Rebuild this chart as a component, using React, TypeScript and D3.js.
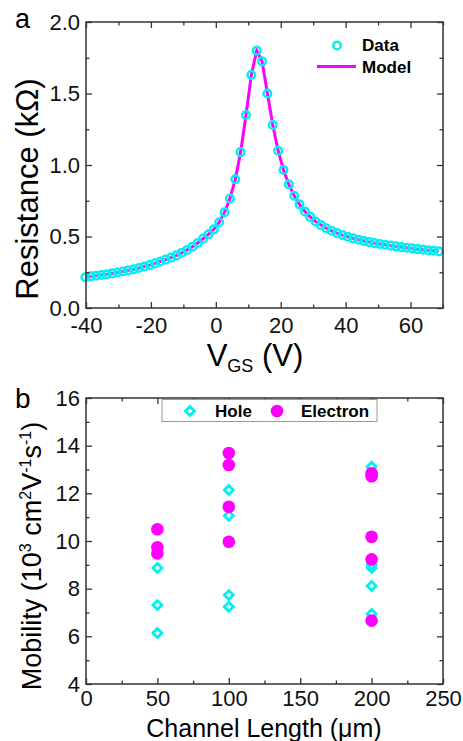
import React, { useEffect, useRef } from 'react';
import * as d3 from 'd3';

// panel a: gate voltage sweep (V) and measured resistance (kOhm)
const vgs = [
  -40.2, -38.55, -36.9, -35.25, -33.6, -31.95, -30.3, -28.65, -27.0, -25.35,
  -23.7, -22.05, -20.4, -18.75, -17.1, -15.45, -13.8, -12.15, -10.5, -8.85,
  -7.2, -5.55, -3.9, -2.25, -0.6, 1.05, 2.7, 4.35, 6.0, 7.65,
  9.3, 10.95, 12.6, 14.25, 15.9, 17.55, 19.2, 20.85, 22.5, 24.15,
  25.8, 27.45, 29.1, 30.75, 32.4, 34.05, 35.7, 37.35, 39.0, 40.65,
  42.3, 43.95, 45.6, 47.25, 48.9, 50.55, 52.2, 53.85, 55.5, 57.15,
  58.8, 60.45, 62.1, 63.75, 65.4, 67.05, 68.7,
];
const resistance = [
  0.215, 0.221, 0.226, 0.231, 0.236, 0.242, 0.248, 0.255, 0.263, 0.271,
  0.28, 0.29, 0.3, 0.312, 0.325, 0.338, 0.352, 0.368, 0.386, 0.406,
  0.428, 0.455, 0.485, 0.515, 0.55, 0.6, 0.67, 0.765, 0.9, 1.09,
  1.35, 1.63, 1.8, 1.725, 1.5, 1.28, 1.1, 0.965, 0.865, 0.785,
  0.725, 0.675, 0.637, 0.605, 0.58, 0.558, 0.54, 0.524, 0.51, 0.498,
  0.487, 0.477, 0.469, 0.461, 0.454, 0.448, 0.442, 0.436, 0.431, 0.426,
  0.421, 0.417, 0.412, 0.408, 0.404, 0.4, 0.396,
];
// model curve
const modelV = vgs;
const modelR = resistance;

// panel b: mobility vs channel length
const holeL = [50, 50, 50, 100, 100, 100, 100, 200, 200, 200, 200, 200];
const holeMu = [8.87, 7.31, 6.14, 12.14, 11.06, 7.73, 7.24, 13.12, 9.0, 8.87, 8.11, 6.94];
const elecL = [50, 50, 50, 100, 100, 100, 100, 200, 200, 200, 200, 200];
const elecMu = [10.49, 9.74, 9.48, 13.69, 13.19, 11.44, 9.97, 12.84, 12.72, 10.18, 9.23, 6.66];

const xTicksA = [-40, -20, 0, 20, 40, 60];
const xMinorA = [-30, -10, 10, 30, 50, 70];
const yTicksA = [0, 0.5, 1.0, 1.5, 2.0];
const yMinorA = [0.25, 0.75, 1.25, 1.75];
const xTicksB = [0, 50, 100, 150, 200, 250];
const xMinorB = [25, 75, 125, 175, 225];
const yTicksB = [4, 6, 8, 10, 12, 14, 16];
const yMinorB = [5, 7, 9, 11, 13, 15];

const CYAN = '#00f0f0';
const MAGENTA = '#ff00ff';
const AXIS = '#333333';
const FONT = '"Liberation Sans", Arial, sans-serif';

const W = 463;
const H = 741;

export default function App() {
  const ref = useRef<SVGSVGElement>(null);

  useEffect(() => {
    const svg = d3.select(ref.current);
    svg.selectAll('*').remove();

    const frame = (
      x: d3.ScaleLinear<number, number>,
      y: d3.ScaleLinear<number, number>,
      xt: number[], xm: number[], yt: number[], ym: number[],
      yfmt: (d: number) => string,
      xpad: number,
    ) => {
      const [x0, x1] = x.range();
      const [y0, y1] = y.range();
      const g = svg.append('g');
      const style = (sel: d3.Selection<SVGGElement, unknown, null, undefined>) => {
        sel.select('.domain').remove();
        sel.selectAll('line').attr('stroke', AXIS).attr('stroke-width', 1.3);
        sel.selectAll('text').attr('font-family', FONT).attr('font-size', 22).attr('fill', '#111');
        sel.attr('font-family', null).attr('font-size', null);
      };
      g.append('g').attr('transform', `translate(0,${y0})`)
        .call(d3.axisBottom(x).tickValues(xt).tickSize(-6).tickPadding(xpad).tickFormat((d) => String(d)))
        .call(style);
      g.append('g').attr('transform', `translate(0,${y0})`)
        .call(d3.axisBottom(x).tickValues(xm).tickSize(-3.5).tickFormat(() => ''))
        .call(style);
      g.append('g').attr('transform', `translate(0,${y1})`)
        .call(d3.axisTop(x).tickValues(xt).tickSize(-6).tickFormat(() => ''))
        .call(style);
      g.append('g').attr('transform', `translate(0,${y1})`)
        .call(d3.axisTop(x).tickValues(xm).tickSize(-3.5).tickFormat(() => ''))
        .call(style);
      g.append('g').attr('transform', `translate(${x0},0)`)
        .call(d3.axisLeft(y).tickValues(yt).tickSize(-6).tickPadding(6).tickFormat((d) => yfmt(d as number)))
        .call(style);
      g.append('g').attr('transform', `translate(${x0},0)`)
        .call(d3.axisLeft(y).tickValues(ym).tickSize(-3.5).tickFormat(() => ''))
        .call(style);
      g.append('g').attr('transform', `translate(${x1},0)`)
        .call(d3.axisRight(y).tickValues(yt).tickSize(-6).tickFormat(() => ''))
        .call(style);
      g.append('g').attr('transform', `translate(${x1},0)`)
        .call(d3.axisRight(y).tickValues(ym).tickSize(-3.5).tickFormat(() => ''))
        .call(style);
      g.append('rect')
        .attr('x', x0).attr('y', y1).attr('width', x1 - x0).attr('height', y0 - y1)
        .attr('fill', 'none').attr('stroke', AXIS).attr('stroke-width', 1.5);
    };

    // ---------- panel a ----------
    const xa = d3.scaleLinear().domain([-40, 70]).range([86, 443]);
    const ya = d3.scaleLinear().domain([0, 2]).range([308, 22]);

    const line = d3.line<number>()
      .x((_, i) => xa(modelV[i]))
      .y((d) => ya(d));
    svg.append('path')
      .datum(modelR)
      .attr('d', line)
      .attr('fill', 'none')
      .attr('stroke', MAGENTA)
      .attr('stroke-width', 3);

    svg.append('g').selectAll('circle')
      .data(resistance)
      .enter()
      .append('circle')
      .attr('cx', (_, i) => xa(vgs[i]))
      .attr('cy', (d) => ya(d))
      .attr('r', 3.8)
      .attr('fill', 'none')
      .attr('stroke', CYAN)
      .attr('stroke-width', 2.5);

    frame(xa, ya, xTicksA, xMinorA, yTicksA, yMinorA, d3.format('.1f'), 9);

    // legend a
    svg.append('circle').attr('cx', 337).attr('cy', 45.5).attr('r', 3.8)
      .attr('fill', 'none').attr('stroke', CYAN).attr('stroke-width', 2.5);
    svg.append('line').attr('x1', 317).attr('x2', 356).attr('y1', 66.5).attr('y2', 66.5)
      .attr('stroke', MAGENTA).attr('stroke-width', 3);
    svg.append('text').attr('x', 362).attr('y', 51).text('Data')
      .attr('font-family', FONT).attr('font-weight', 'bold').attr('font-size', 17);
    svg.append('text').attr('x', 362).attr('y', 73).text('Model')
      .attr('font-family', FONT).attr('font-weight', 'bold').attr('font-size', 17);

    // titles a
    svg.append('text').attr('x', 15).attr('y', 28).text('a')
      .attr('font-family', FONT).attr('font-size', 27);
    svg.append('text')
      .attr('transform', 'translate(38,189) rotate(-90)')
      .attr('text-anchor', 'middle')
      .attr('font-family', FONT).attr('font-size', 31)
      .text('Resistance (kΩ)');
    const vt = svg.append('text').attr('x', 255).attr('y', 366)
      .attr('text-anchor', 'middle').attr('font-family', FONT).attr('font-size', 31);
    vt.append('tspan').text('V');
    vt.append('tspan').attr('font-size', 18).attr('dy', 6).text('GS');
    vt.append('tspan').attr('dy', -6).text(' (V)');

    // ---------- panel b ----------
    const xb = d3.scaleLinear().domain([0, 250]).range([86, 443]);
    const yb = d3.scaleLinear().domain([4, 16]).range([684, 398]);

    const diamond = d3.symbol().type(d3.symbolSquare).size(40);
    svg.append('g').selectAll('path')
      .data(holeMu)
      .enter()
      .append('path')
      .attr('d', diamond)
      .attr('transform', (d, i) => `translate(${xb(holeL[i])},${yb(d)}) rotate(45)`)
      .attr('fill', 'none')
      .attr('stroke', CYAN)
      .attr('stroke-width', 2.8);

    svg.append('g').selectAll('circle')
      .data(elecMu)
      .enter()
      .append('circle')
      .attr('cx', (_, i) => xb(elecL[i]))
      .attr('cy', (d) => yb(d))
      .attr('r', 6.3)
      .attr('fill', MAGENTA);

    frame(xb, yb, xTicksB, xMinorB, yTicksB, yMinorB, (d) => String(d), 6);

    // legend b
    svg.append('rect').attr('x', 162).attr('y', 399.5).attr('width', 215).attr('height', 22)
      .attr('fill', '#fff').attr('stroke', '#999').attr('stroke-width', 1);
    svg.append('path').attr('d', diamond)
      .attr('transform', 'translate(190,411) rotate(45)')
      .attr('fill', 'none').attr('stroke', CYAN).attr('stroke-width', 2.8);
    svg.append('circle').attr('cx', 277).attr('cy', 411).attr('r', 6.3).attr('fill', MAGENTA);
    svg.append('text').attr('x', 215).attr('y', 417).text('Hole')
      .attr('font-family', FONT).attr('font-weight', 'bold').attr('font-size', 17);
    svg.append('text').attr('x', 301).attr('y', 417).text('Electron')
      .attr('font-family', FONT).attr('font-weight', 'bold').attr('font-size', 17);

    // titles b
    svg.append('text').attr('x', 15).attr('y', 408).text('b')
      .attr('font-family', FONT).attr('font-size', 28);
    const mt = svg.append('text')
      .attr('transform', 'translate(41,556) rotate(-90)')
      .attr('text-anchor', 'middle')
      .attr('font-family', FONT).attr('font-size', 27);
    mt.append('tspan').text('Mobility (10');
    mt.append('tspan').attr('font-size', 16).attr('dy', -10).text('3');
    mt.append('tspan').attr('dy', 10).text(' cm');
    mt.append('tspan').attr('font-size', 16).attr('dy', -10).text('2');
    mt.append('tspan').attr('dy', 10).text('V');
    mt.append('tspan').attr('font-size', 16).attr('dy', -10).text('-1');
    mt.append('tspan').attr('dy', 10).text('s');
    mt.append('tspan').attr('font-size', 16).attr('dy', -10).text('-1');
    mt.append('tspan').attr('dy', 10).text(')');
    svg.append('text').attr('x', 264).attr('y', 737)
      .attr('text-anchor', 'middle').attr('font-family', FONT).attr('font-size', 25)
      .text('Channel Length (μm)');
  }, []);

  return (
    <svg
      ref={ref}
      width={W}
      height={H}
      style={{ position: 'absolute', left: 0, top: 0, background: '#fff' }}
    />
  );
}
